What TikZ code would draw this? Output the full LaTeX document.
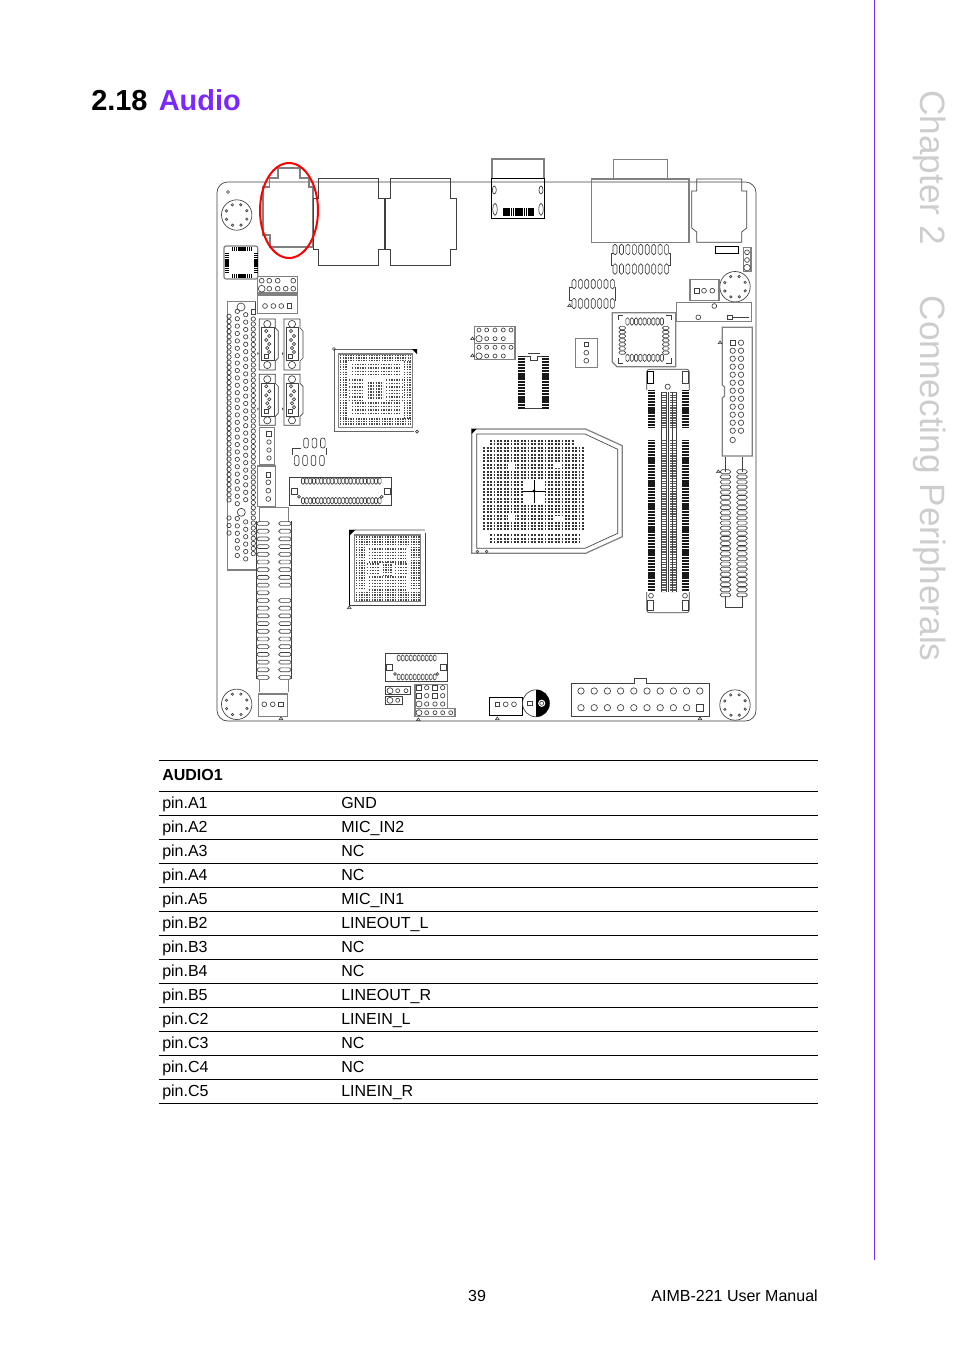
\documentclass[tikz,border=0pt]{standalone}
\usepackage{fontspec}
\setmainfont{Liberation Sans}
\usetikzlibrary{calc,positioning}
\definecolor{chapterviolet}{RGB}{122,40,255}
\definecolor{tabgray}{RGB}{205,205,205}

\newcommand{\ovalrow}[7]{\pgfmathsetmacro{\rc}{0.72*min(#6,#7)}\foreach \k in {1,...,#5}{\draw[part,rounded corners=\rc pt] ({#1+(\k-1)*#3-#6},{#2+(\k-1)*#4-#7}) rectangle ({#1+(\k-1)*#3+#6},{#2+(\k-1)*#4+#7});}}
\newcommand{\pinrow}[3][2.4]{\foreach \px in {#3}{\draw[part] (\px,#2) circle (#1);}}
\newcommand{\pinsq}[3][2.2]{\draw[part] ({#2-#1},{#3-#1}) rectangle ({#2+#1},{#3+#1});}
\newcommand{\marktri}[2]{\draw[part] (#1,#2) -- ++(-1.8,2.6) -- ++(3.6,0) -- cycle;}
\newcommand{\mounthole}[2]{\draw[part] (#1,#2) circle (15.2);
  \foreach \a in {22,67,...,360}{\draw[part] ($(#1,#2)+(\a:11)$) circle (1.2);}}
\newcommand{\lanport}[1]{\begin{scope}[shift={(#1,0)}]
  \draw[part] (318,178) -- (378,178) -- (378,198) -- (384,198) -- (384,249) -- (378,249) -- (378,265) -- (318,265) -- (318,249) -- (313,249) -- (313,198) -- (318,198) -- cycle;
\end{scope}}
\newcommand{\satabox}[2]{\begin{scope}[shift={(#1,#2)}]
  \draw[part] (0,0) -- (16,0) -- (16,9) -- (19,12) -- (19,39) -- (16,42) -- (16,51) -- (0,51) -- cycle;
  \draw[part] (2.4,8.7) rectangle (14.7,41.7);
  \draw[part] (8,5) circle (3.6) (8,46) circle (3.6);
  \draw[part] (6.7,37) ++(-2,-2) rectangle ++(4,4);
  \pinrow[1.6]{12}{7} \pinrow[1.6]{17}{10} \pinrow[1.6]{21}{7} \pinrow[1.6]{25}{10} \pinrow[1.6]{29}{8} \pinrow[1.6]{33}{10}
  \fill[black!70] (-2,33) -- ++(1.5,1.5) -- ++(-1.5,1.5) -- cycle;
\end{scope}}
\newcommand{\dotfield}[5]{\pgfmathsetmacro{\nextrow}{#2+#5}\foreach \ry in {#2,\nextrow,...,#4}{\draw[dotline] (#1,\ry) -- (#3,\ry);}}
\newcommand{\pinstrip}[3]{\draw[strip] (#1,#2) -- (#1,#3);}

\begin{document}
\begin{tikzpicture}[x=0.75pt,y=-0.75pt,
        part/.style={draw=black!75,line width=0.5pt},
        frame/.style={draw=black!50,line width=0.9pt},
        heavy/.style={draw=black,line width=0.6pt},
        dotline/.style={draw=black!70,line width=1.05pt,dash pattern=on 1.05pt off 0.9pt},
        cpudots/.style={draw=black!80,line width=1.45pt,dash pattern=on 1.45pt off 1.1pt},
        strip/.style={draw=black!90,line width=5.3pt,dash pattern=on 0.85pt off 0.3pt},
        rule/.style={draw=black,line width=0.5pt},
        cell/.style={anchor=base west,inner sep=0pt,font=\fontsize{12}{14}\selectfont},
        tabtext/.style={anchor=base west,inner sep=0pt,rotate=-90,text=tabgray,font=\fontsize{26.4}{30}\selectfont}
      ]
  \path[use as bounding box,fill=white] (0,0) rectangle (954,1350);

  % page furniture
  \draw[draw=chapterviolet,line width=0.75pt] (874,0) -- (874,1260);
  \node (chaptertab) [tabtext] at (920,90) {Chapter 2};
  \node (sectiontab) [tabtext] at (920,295.5) {Connecting Peripherals};
  \node (secnum) [cell,font=\fontsize{21.7}{24}\selectfont\bfseries] at (91,110) {2.18};
  \node (sectitle) [cell,font=\fontsize{21.7}{24}\selectfont\bfseries,text=chapterviolet] at (158.5,110) {Audio};

  % board outline
  \draw[part,rounded corners=8pt] (217,182) rectangle (756,721);
  \mounthole{236.7}{215}
  \mounthole{236.7}{704.3}
  \mounthole{735}{705}
  \mounthole{735}{286.7}
  \pinrow[1.5]{192}{228}

  % rear connectors
  \draw[frame] (269.5,187) -- (269.5,178) -- (278,178) -- (278,168) -- (300,168) -- (300,178) -- (309,178) -- (309,187) -- (313,187) -- (313,247) -- (270,247) -- (270,235) -- (263,235) -- (263,187) -- cycle;
  \lanport{0}
  \lanport{72}
  \draw[frame] (492,178.5) -- (492,159) -- (544,159) -- (544,178.5);
  \draw[heavy] (491.7,178.3) rectangle (544.3,218.3);
  \draw[part] (494.3,190) ellipse (2 and 4) (541,190) ellipse (2 and 4) (495,209.3) ellipse (2.2 and 6) (541,209.3) ellipse (2.2 and 6);
  \draw[draw=black,line width=6.4pt,dash pattern=on 1.1pt off 0.3pt] (503.3,212) -- (533.3,212);
  \draw[frame] (613.3,179) -- (613.3,159.3) -- (667.3,159.3) -- (667.3,179);
  \draw[frame] (591.7,179) rectangle (689,242.7);
  \draw[part] (696.7,179) -- (741.7,179) -- (741.7,191) -- (746.7,191) -- (746.7,228) -- (741.7,232) -- (741.7,242.3) -- (696.7,242.3) -- (696.7,232) -- (691.7,228) -- (691.7,191) -- (696.7,191) -- cycle;

  % left edge parts
  \draw[frame,rounded corners=1.5pt] (224,246) rectangle (257.7,279);
  \draw[draw=black,line width=3pt,dash pattern=on 1pt off 0.4pt] (232,249) -- (251,249) (232,276) -- (251,276);
  \draw[draw=black,line width=3pt,dash pattern=on 1pt off 0.4pt] (227,253) -- (227,272) (255.5,253) -- (255.5,272);
  \draw[frame] (257.7,276.7) rectangle (297.3,293);
  \pinrow{280.7}{261.7,269.3,277.7,293.3}
  \pinrow{288.7}{269.3,277.7,285.7,293.3}
  \pinrow[3.4]{288.7}{261.7}
  \draw[frame] (257.7,295) rectangle (297.3,313.3);
  \pinrow{306}{265,273.3,281.3}
  \pinsq{289.3}{306}

  \draw[frame] (255.7,301.7) -- (227.3,301.7) -- (227.3,570) -- (255.7,570);
  \draw[part] (255.7,301.7) -- (255.7,309);
  \foreach \rw in {0,...,36}{\pinrow[2.2]{{316.3+5.1*\rw}}{229}}
  \pinrow[2.2]{518}{229}
  \pinrow[2.2]{525.5}{229}
  \pinrow[2.2]{533}{229}
  \foreach \rw in {0,...,26,28,29,...,33}{\pinrow[2.2]{{311.3+7.4*\rw}}{237.3}}
  \foreach \rw in {0,...,25,28,29,...,33}{\pinrow[2.2]{{314.7+7.4*\rw}}{245.7}}
  \foreach \rw in {0,...,46}{\pinrow[2.2]{{319+5.1*\rw}}{253.3}}
  \pinsq{253.3}{312}
  \pinrow[4]{307}{241}
  \pinrow[4]{512.3}{241.3}

  \satabox{259.3}{319}
  \satabox{284}{319}
  \satabox{259.3}{374.3}
  \satabox{284}{374.3}

  \draw[frame] (259.3,427.3) rectangle (274.3,465);
  \pinsq{269}{434}
  \pinrow[2.2]{442}{269}
  \pinrow[2.2]{450}{269}
  \pinrow[2.2]{458}{269}
  \draw[frame] (257.7,466) rectangle (275.7,506.7);
  \pinsq{268.3}{475}
  \pinrow{482.3}{268.3}
  \pinrow{490.7}{268.3}
  \pinrow{499}{268.3}

  \ovalrow{306}{443}{8.4}{0}{3}{2.3}{5}
  \ovalrow{296.7}{460.5}{8.4}{0}{4}{2.3}{5.2}
  \draw[part] (301,448) -- (292.7,448) -- (292.7,455) (326,448) -- (326,455);

  \draw[part] (289.3,477.3) rectangle (391.7,505.3);
  \ovalrow{303}{481}{3.65}{0}{22}{1.5}{3.3}
  \ovalrow{303}{500.7}{3.65}{0}{22}{1.5}{3.3}
  \pinsq[3]{294}{491}
  \pinsq[3]{387.3}{491}
  \pinrow[1.4]{496.7}{299,381.7}

  % bottom left slot
  \draw[frame] (259.3,521.7) -- (259.3,507.7) -- (288.7,507.7) -- (288.7,521.7);
  \ovalrow{263}{523.5}{0}{7.7}{21}{6.3}{1.9}
  \ovalrow{285}{523.5}{0}{7.7}{9}{6.3}{1.9}
  \ovalrow{285}{600.5}{0}{7.7}{11}{6.3}{1.9}
  \draw[part] (256.7,521) -- (256.7,679) (291,521) -- (291,679);
  \draw[frame] (259.3,679.3) -- (259.3,692.3) (288.7,679.3) -- (288.7,692.3);
  \draw[frame] (258.3,694) rectangle (287.3,716.7);
  \pinrow{704.3}{264.3,272.7}
  \pinsq{281}{704.3}
  \marktri{281}{717}

  % north bridge
  \draw[heavy,draw=black!60] (334.3,349) -- (414,349) (334.3,349) -- (334.3,431.7) -- (414,431.7);
  \draw[frame] (338.3,354) rectangle (412.3,427.3);
  \fill[black] (412,349) -- (417,349) -- (417,354) -- cycle;
  \pinrow[1.5]{349}{334}
  \pinrow[1.5]{431.7}{417}
  \dotfield{340}{355.5}{411}{361}{2.55}
  \dotfield{340}{419}{411}{426}{2.55}
  \dotfield{340}{362}{347}{419}{2.55}
  \dotfield{404}{362}{411}{419}{2.55}
  \dotfield{352}{364.5}{399}{378}{3.4}
  \dotfield{352}{403}{399}{416}{3.4}
  \dotfield{349}{380}{364}{401}{3.4}
  \dotfield{386}{380}{402}{401}{3.4}
  \dotfield{367.7}{383}{383.3}{398}{3}

  % south bridge
  \draw[draw=black,line width=0.7pt] (349,530) -- (349,605.7);
  \draw[part] (349,605.7) -- (425,605.7) -- (425,533);
  \draw[frame,draw=black!25] (349,530) -- (425,530);
  \fill[black] (349,530) -- (355,530) -- (349,536) -- cycle;
  \draw[frame] (354.3,535) rectangle (420.7,601.7);
  \marktri{349.3}{606}
  \dotfield{356}{537}{419.5}{545}{2.55}
  \dotfield{356}{592.5}{419.5}{600.5}{2.55}
  \dotfield{356}{547.5}{365}{590}{2.55}
  \dotfield{410.5}{547.5}{419.5}{590}{2.55}
  \dotfield{369}{549}{406}{562}{3.2}
  \dotfield{369}{577}{406}{590}{3.2}
  \dotfield{367}{564}{380}{575}{3.2}
  \dotfield{395}{564}{408}{575}{3.2}
  \dotfield{382.5}{562.5}{392.5}{576}{2.55}

  % top middle
  \draw[frame] (474.3,326.7) rectangle (515,343.3);
  \draw[frame] (474.3,343.3) rectangle (515,359.3);
  \pinrow[2]{330}{479,486.7,495,503.3,511}
  \pinrow[2]{338.7}{486.7,495,503.3}
  \pinrow[2]{347.3}{479,486.7,495,503.3,511}
  \pinrow[2]{356}{486.7,495,503.3}
  \pinrow[3.2]{338.7}{479}
  \pinrow[3.2]{356}{479}
  \marktri{472.5}{337}
  \marktri{472.5}{354}
  \pinstrip{521.6}{356}{408.3}
  \pinstrip{545.7}{356}{408.3}
  \draw[part] (525,356) -- (530,356) -- (530,360) -- (537,360) -- (537,356) -- (542,356);
  \draw[part] (525,408.3) -- (542,408.3) (528,353) -- (540,353);
  \draw[frame] (575.7,338.7) rectangle (597.7,367.3);
  \pinsq{586.3}{344.3}
  \pinrow{352.7}{586.3}
  \pinrow{360.7}{586.3}

  % dual rows
  \ovalrow{615}{249.5}{6.45}{0}{9}{2}{5.3}
  \ovalrow{615}{269}{6.45}{0}{9}{2}{5.2}
  \draw[part] (612.7,253) -- (611.7,253) -- (611.7,265) -- (612.7,265) (669,253) -- (670,253) -- (670,265) -- (669,265);
  \ovalrow{574}{284}{6.4}{0}{7}{2}{4.8}
  \ovalrow{574}{303.5}{6.4}{0}{7}{2}{5.2}
  \draw[part] (571.5,287) -- (569.3,287) -- (569.3,300) -- (571.5,300) (614.5,287) -- (615.7,287) -- (615.7,300) -- (614.5,300);
  \marktri{569.5}{304}

  % right top
  \draw[heavy] (715.3,246.3) rectangle (738.3,253.3);
  \draw[frame] (743.3,247.7) rectangle (751,271.7);
  \pinrow{252.3}{747}
  \pinrow{260}{747}
  \pinrow[3.3]{267.7}{747}
  \draw[frame] (690,279.3) rectangle (719,300.7);
  \pinsq{696.7}{290.7}
  \pinrow{290.7}{704,712.3}
  \draw[frame] (676.7,302.7) rectangle (751.7,321.3);
  \pinrow{306}{714.3}
  \pinrow{317.3}{698.3}
  \pinsq{730}{317.3}
  \draw[part] (732.3,317.3) -- (749.3,317.3);

  % socket
  \draw[frame] (612.3,312.7) -- (675.7,312.7) -- (675.7,366.7) -- (617,366.7) -- (612.3,362) -- cycle;
  \draw[part] (623,315.7) -- (618.3,315.7) -- (618.3,320) (666,315.7) -- (671,315.7) -- (671,320) (618.3,358) -- (618.3,363.3) -- (623,363.3) (671,358) -- (671,363.3) -- (666,363.3);
  \ovalrow{627.5}{321.5}{4.3}{0}{9}{1.6}{3.7}
  \ovalrow{627.5}{357.8}{4.3}{0}{9}{1.6}{3.7}
  \ovalrow{622.3}{328}{0}{4.1}{7}{3.4}{1.6}
  \ovalrow{665.8}{328}{0}{4.1}{7}{3.4}{1.6}

  % cpu socket
  \draw[frame] (471.7,429) -- (585.7,429) -- (622.3,445.7) -- (622.3,536.7) -- (585.7,553.3) -- (471.7,553.3) -- cycle;
  \draw[part] (476.7,434) -- (585,434) -- (617.7,449.3) -- (617.7,533.3) -- (585,548.3) -- (476.7,548.3) -- cycle;
  \fill[black] (471.7,429) -- (476.7,429) -- (471.7,434) -- cycle;
  \foreach \ry in {441,444.4}{\draw[cpudots] (490.1,\ry) -- (574,\ry);}
  \foreach \ry in {447.8,451.2,...,532}{\draw[cpudots] (483.3,\ry) -- (585,\ry);}
  \foreach \ry in {535.2,538.6,542}{\draw[cpudots] (490.1,\ry) -- (580,\ry);}
  \fill[white] (508,463) rectangle (515,469) (553,463) rectangle (562,468) (508,514) rectangle (515,521) (555,516) rectangle (563,521);
  \fill[white] (524,481) rectangle (545,503);
  \draw[part,draw=black] (522,491) -- (546,491) (534,480) -- (534,503);
  \fill[black] (534,491) circle (1.6);
  \pinrow[1.3]{551.5}{477.3,486.7}

  % dimm slot
  \draw[part,rounded corners=2pt] (646.7,390) -- (646.7,369.3) -- (689.3,369.3) -- (689.3,390);
  \draw[part,rounded corners=2pt] (646.7,592) -- (646.7,612.7) -- (689.3,612.7) -- (689.3,592);
  \draw[heavy] (647.3,371.7) rectangle (653.3,383.3);
  \draw[part] (682.7,371.7) rectangle (688.7,383.3);
  \pinrow[2.6]{386.7}{667.7}
  \pinstrip{651.3}{390}{428}
  \pinstrip{685.3}{390}{428}
  \pinstrip{651.3}{440}{591.7}
  \pinstrip{685.3}{440}{591.7}
  \draw[draw=black!65,line width=3.4pt,dash pattern=on 1pt off 0.9pt] (663.3,392) -- (663.3,428) (663.3,440) -- (663.3,592);
  \draw[draw=black!65,line width=4.5pt,dash pattern=on 1pt off 0.9pt] (672.8,392) -- (672.8,428) (672.8,440) -- (672.8,592);
  \foreach \sx in {661.7,666.6,668.6,672.2,676.7}{\draw[part] (\sx,392) -- (\sx,592);}
  \pinrow{595.7}{651,685}
  \draw[part] (647.7,600) rectangle (653.7,610);
  \draw[part] (682.3,600) rectangle (688.3,610);

  % ide header
  \draw[frame] (752.3,327.3) -- (722.3,327.3) -- (722.3,385) -- (724.5,387) -- (724.5,396) -- (722.3,398) -- (722.3,456) -- (752.3,456) -- cycle;
  \foreach \rw in {1,...,11}{\pinrow[2.7]{{342.7+8*\rw}}{732.7,741}}
  \pinsq[2.4]{732.7}{342.7}
  \pinrow[2.7]{342.7}{741}
  \pinrow[2.7]{440}{732.7}
  \marktri{720}{341}

  % pci slot
  \draw[part] (725,471.7) -- (725,457.3) (742.3,457.3) -- (742.3,471.7);
  \ovalrow{725.5}{471.7}{0}{5.13}{25}{5.4}{1.9}
  \ovalrow{742}{471.7}{0}{5.13}{25}{5.4}{1.9}
  \draw[part] (725,596) -- (725,607.7) -- (742.3,607.7) -- (742.3,596);
  \marktri{718.3}{470}

  % bottom row
  \draw[part] (385.7,653.7) rectangle (447.7,681.7);
  \ovalrow{398.7}{658}{4}{0}{10}{1.4}{3}
  \ovalrow{398.7}{677}{4}{0}{10}{1.4}{3}
  \pinsq[3]{389.3}{667.7}
  \pinsq[3]{443.3}{667.7}
  \pinrow[1.4]{674}{395,437.3}
  \draw[part] (385.7,686) rectangle (410.7,694.3);
  \pinrow[3]{690.7}{390}
  \pinrow[2]{690.7}{397.7,406}
  \draw[part] (385.7,696.7) rectangle (402.3,704.3);
  \pinrow[3]{700.3}{390}
  \pinrow[2]{700.3}{397.7}
  \draw[frame] (415,684.3) rectangle (447.3,708.3);
  \pinrow[2.2]{687.7}{426.7,442.7}
  \pinrow[2.2]{695.7}{426.7,442.7}
  \pinrow[2.2]{704}{426.7,435,442.7}
  \pinsq{419}{687.7}
  \pinsq{435}{687.7}
  \pinsq{419}{695.7}
  \pinsq{435}{695.7}
  \pinrow[3]{704}{419}
  \draw[frame] (415,708.3) rectangle (455,716.7);
  \pinrow[2]{712.7}{426.7,435,442.7,450.7}
  \pinrow[3]{712.7}{419}
  \marktri{418.3}{718}

  \draw[heavy] (489,697.3) rectangle (522.3,715.3);
  \pinsq{497.3}{704.3}
  \pinrow{704.3}{505.7,514}
  \marktri{497.3}{717}
  \draw[part] (536,703.3) circle (13.5);
  \fill[black] (536,716.8) arc (90:-90:13.5) -- cycle;
  \fill[white] (541.7,703.3) circle (3.6);
  \pinrow[2]{703.3}{541.7}
  \pinsq{530}{703.3}

  \draw[part] (571.3,683.3) -- (634,683.3) -- (634,678.3) -- (646.7,678.3) -- (646.7,683.3) -- (709,683.3) -- (709,716) -- (571.3,716) -- cycle;
  \pinrow[3.2]{691}{581,594.2,607.4,620.6,633.8,647,660.2,673.4,686.6,699.8}
  \pinrow[3.2]{707.7}{581,594.2,607.4,620.6,633.8,647,660.2,673.4,686.6}
  \pinsq[3.3]{699.8}{707.7}
  \marktri{700}{717}

  \draw[draw=red,line width=1.5pt] (289,210.5) ellipse (29 and 47.5);

  % pin table
  \node (tablehead) [cell,font=\fontsize{12}{14}\selectfont\bfseries] at (162,780) {AUDIO1};
  \draw[rule] (159,760.5) -- (818,760.5);
  \draw[rule] (159,791) -- (818,791);
  \foreach \pinname/\signal [count=\i from 0] in {pin.A1/GND,pin.A2/MIC\_IN2,pin.A3/NC,pin.A4/NC,pin.A5/MIC\_IN1,pin.B2/LINEOUT\_L,pin.B3/NC,pin.B4/NC,pin.B5/LINEOUT\_R,pin.C2/LINEIN\_L,pin.C3/NC,pin.C4/NC,pin.C5/LINEIN\_R}{
    \node (pin\i) [cell] at (162,{808+24*\i}) {\pinname};
    \node (signal\i) [cell] at (341,{808+24*\i}) {\signal};
    \draw[rule] (159,{815+24*\i}) -- (818,{815+24*\i});
  }

  % footer
  \node (pagenum) [cell,anchor=base] at (477,1301) {39};
  \node (manual) [cell,anchor=base east] at (818,1301) {AIMB-221 User Manual};
\end{tikzpicture}
\end{document}
